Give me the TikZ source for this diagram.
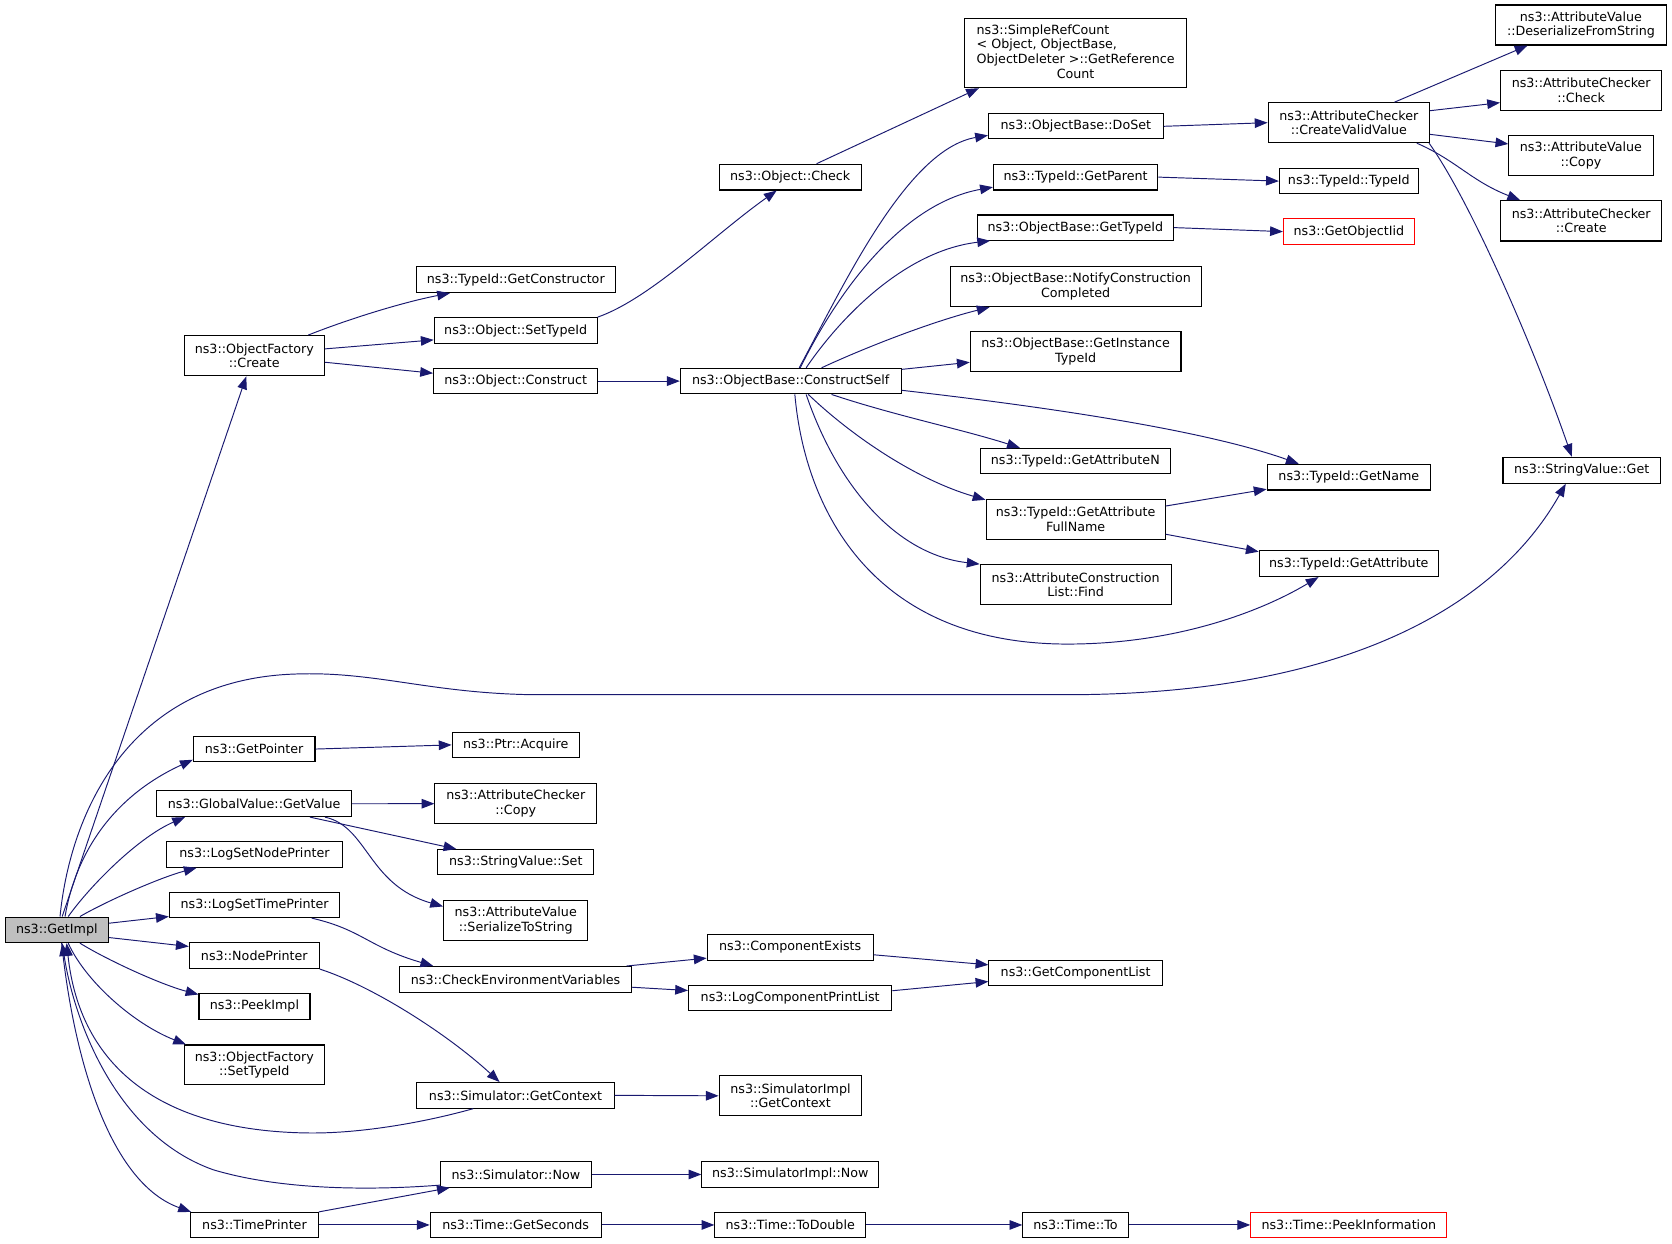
\documentclass[tikz,border=0pt]{standalone}
\usepackage{fontspec}
\setmainfont{DejaVu Sans}
\usetikzlibrary{arrows.meta}
\definecolor{edgec}{RGB}{25,25,112}
\definecolor{rootfill}{RGB}{191,191,191}
\tikzset{
 fnbox/.style={draw=black, line width=1pt, fill=white, inner sep=0pt, align=center,
   font=\fontsize{11.9pt}{13.8pt}\selectfont, text=black},
 rootbox/.style={fill=rootfill},
 redbox/.style={draw=red},
 ed/.style={draw=edgec, line width=0.9pt, -{Triangle[length=12pt,width=9pt]}},
}
\newcommand\fn[7][]{\node[fnbox,#1,minimum width={(#5-#3)*1pt},minimum height={(#6-#4)*1pt}] (#2) at ({(#3+#5)/2},{(#4+#6)/2}) {#7};}
\begin{document}
\begin{tikzpicture}[x=1pt,y=-1pt]
\path[use as bounding box, fill=white] (0,0) rectangle (1568,1166.4);
% nodes
\fn[rootbox]{gi}{5}{860}{101.6}{884}{ns3::GetImpl}
\fn{ofc}{172.8}{314.7}{304.1}{352.5}{ns3::ObjectFactory\\::Create}
\fn{gcons}{390.4}{250}{577}{274.4}{ns3::TypeId::GetConstructor}
\fn{ost}{407.2}{297.9}{560}{322}{ns3::Object::SetTypeId}
\fn{ocon}{406.6}{345.4}{560.7}{369.4}{ns3::Object::Construct}
\fn{och}{674.5}{154}{807.6}{178.2}{ns3::Object::Check}
\fn{cs}{638}{345.4}{845}{369.4}{ns3::ObjectBase::ConstructSelf}
\fn{src}{904.4}{17.5}{1113}{82.2}{\begin{tabular}{@{}l@{}}ns3::SimpleRefCount\\< Object, ObjectBase,\\\multicolumn{1}{@{}c@{}}{ObjectDeleter >::GetReference}\\\multicolumn{1}{@{}c@{}}{Count}\end{tabular}}
\fn{doset}{927}{106.6}{1090.9}{130.3}{ns3::ObjectBase::DoSet}
\fn{gpar}{931.6}{154}{1085.8}{178.2}{ns3::TypeId::GetParent}
\fn{gtid}{916.4}{201.6}{1100.6}{225.3}{ns3::ObjectBase::GetTypeId}
\fn{notify}{891}{250}{1126.4}{287.6}{ns3::ObjectBase::NotifyConstruction\\Completed}
\fn{ginst}{909.9}{311}{1107.5}{348.5}{ns3::ObjectBase::GetInstance\\TypeId}
\fn{gattrn}{919.5}{420.4}{1097.3}{444.4}{ns3::TypeId::GetAttributeN}
\fn{fulln}{924.7}{468.2}{1092.7}{506.3}{ns3::TypeId::GetAttribute\\FullName}
\fn{find}{919.2}{529.5}{1098.3}{567.3}{ns3::AttributeConstruction\\List::Find}
\fn{cvv}{1189.2}{96.3}{1340.7}{133.8}{ns3::AttributeChecker\\::CreateValidValue}
\fn{tidtid}{1199.8}{157.8}{1330}{181.9}{ns3::TypeId::TypeId}
\fn[redbox]{goid}{1203.6}{205}{1326.3}{229.4}{ns3::GetObjectIid}
\fn{gname}{1188.3}{435.4}{1341.6}{459.5}{ns3::TypeId::GetName}
\fn{gattr}{1180.9}{516.6}{1348.9}{540.7}{ns3::TypeId::GetAttribute}
\fn{dfs}{1402.5}{4.7}{1562.7}{42.2}{ns3::AttributeValue\\::DeserializeFromString}
\fn{acchk}{1407.2}{66}{1558.5}{103.4}{ns3::AttributeChecker\\::Check}
\fn{avcopy}{1415}{126.9}{1550.2}{164.7}{ns3::AttributeValue\\::Copy}
\fn{accreate}{1407.2}{188.2}{1558.5}{226}{ns3::AttributeChecker\\::Create}
\fn{svget}{1409.5}{428.8}{1557.2}{453.2}{ns3::StringValue::Get}
\fn{gp}{181.3}{690.7}{295.4}{714.2}{ns3::GetPointer}
\fn{acq}{424}{686.7}{543.2}{710.4}{ns3::Ptr::Acquire}
\fn{gv}{146.9}{741.7}{329.8}{765.8}{ns3::GlobalValue::GetValue}
\fn{accopy}{407.9}{734.8}{559.5}{772.6}{ns3::AttributeChecker\\::Copy}
\fn{svset}{410.4}{796.7}{557}{820.4}{ns3::StringValue::Set}
\fn{sts}{416}{844.8}{551.3}{882.3}{ns3::AttributeValue\\::SerializeToString}
\fn{lsnp}{156.3}{789.2}{321}{813.3}{ns3::LogSetNodePrinter}
\fn{lstp}{158.8}{837}{318.8}{860.5}{ns3::LogSetTimePrinter}
\fn{np}{177.5}{884}{299.4}{908.3}{ns3::NodePrinter}
\fn{peek}{186.6}{931.6}{290.7}{955.7}{ns3::PeekImpl}
\fn{ofst}{172.8}{980}{304.1}{1017.3}{ns3::ObjectFactory\\::SetTypeId}
\fn{cev}{375}{906.4}{592}{930.8}{ns3::CheckEnvironmentVariables}
\fn{cex}{663.2}{876.7}{818.9}{900.4}{ns3::ComponentExists}
\fn{lcpl}{645.7}{924.2}{836.4}{948}{ns3::LogComponentPrintList}
\fn{gcl}{927.4}{900.8}{1090}{924.5}{ns3::GetComponentList}
\fn{sgc}{391}{1015.2}{576}{1039.2}{ns3::Simulator::GetContext}
\fn{sigc}{674.4}{1008.9}{808.2}{1046.4}{ns3::SimulatorImpl\\::GetContext}
\fn{snow}{413.1}{1089.5}{554.5}{1113.3}{ns3::Simulator::Now}
\fn{sinow}{658.2}{1089.5}{824.2}{1113.3}{ns3::SimulatorImpl::Now}
\fn{tp}{178.8}{1137}{298.5}{1160.5}{ns3::TimePrinter}
\fn{gsec}{403.4}{1137}{563.8}{1160.5}{ns3::Time::GetSeconds}
\fn{todbl}{670.4}{1137}{811.7}{1160.5}{ns3::Time::ToDouble}
\fn{tto}{959.2}{1137}{1058.1}{1160.5}{ns3::Time::To}
\fn[redbox]{peekinfo}{1173}{1137}{1356.8}{1160.5}{ns3::Time::PeekInformation}
% edges from GetImpl
\draw[ed] ([xshift=5pt]gi.north) -- ([xshift=-7.5pt]ofc.south);
\draw[ed] ([xshift=3pt]gi.north) .. controls (65,770) and (115,640) .. (272,632.3) .. controls (350,628.5) and (400,650) .. (500,651.5) -- (1000,651.5) .. controls (1250,651.5) and (1400,575) .. ([xshift=-15pt]svget.south);
\draw[ed] ([xshift=7.7pt]gi.north) .. controls (72,795) and (110,745) .. ([yshift=-10pt]gp.west);
\draw[ed] ([xshift=10.7pt]gi.north) .. controls (85,830) and (130,785) .. ([xshift=-64.85pt]gv.south);
\draw[ed] ([xshift=21.7pt]gi.north) .. controls (100,845) and (150,823) .. ([xshift=-54.25pt]lsnp.south);
\draw[ed] ([yshift=6.2pt]gi.east) -- ([yshift=-10.75pt]lstp.west);
\draw[ed] ([yshift=-7.2pt]gi.east) -- ([yshift=8.55pt]np.west);
\draw[ed] ([xshift=21.7pt]gi.south) .. controls (100,900) and (150,923) .. ([yshift=11pt]peek.west);
\draw[ed] ([xshift=10.7pt]gi.south) .. controls (80,920) and (125,960) .. ([xshift=-64pt]ofst.north);
\draw[ed] ([xshift=4.5pt]gi.south) .. controls (70,1000) and (105,1110) .. ([xshift=-59.5pt]tp.north);
\draw[ed] ([xshift=-39.7pt]sgc.south) .. controls (400,1052) and (340,1063) .. (290,1062.5) .. controls (150,1061) and (75,1000) .. ([xshift=9.2pt]gi.south);
\draw[ed] ([yshift=-10pt]snow.west) .. controls (340,1117) and (260,1115) .. (200,1097) .. controls (110,1065) and (70,960) .. ([xshift=5pt]gi.south);
% bottom part
\draw[ed] (tp.north east) -- ([xshift=-62pt]snow.south);
\draw[ed] (tp.east) -- (gsec.west);
\draw[ed] (gsec.east) -- (todbl.west);
\draw[ed] (todbl.east) -- (tto.west);
\draw[ed] (tto.east) -- (peekinfo.west);
\draw[ed] (snow.east) -- (sinow.west);
\draw[ed] (sgc.east) -- (sigc.west);
\draw[ed] (np.south east) .. controls (350,925) and (420,970) .. ([xshift=-15pt]sgc.north);
\draw[ed] ([xshift=53.5pt]lstp.south) .. controls (340,872) and (345,888) .. ([xshift=-77.2pt]cev.north);
\draw[ed] ([xshift=104.1pt]cev.north) -- ([yshift=-10pt]cex.west);
\draw[ed] ([yshift=-7.2pt]cev.east) -- ([yshift=7.2pt]lcpl.west);
\draw[ed] ([yshift=-6.85pt]cex.east) -- ([yshift=7.85pt]gcl.west);
\draw[ed] ([yshift=7pt]lcpl.east) -- ([yshift=-7.85pt]gcl.west);
% middle
\draw[ed] (gv.east) -- (accopy.west);
\draw[ed] ([xshift=52.35pt]gv.south) -- ([xshift=-55.7pt]svset.north);
\draw[ed] ([xshift=66.35pt]gv.south) .. controls (345,775) and (345,830) .. ([yshift=13.5pt]sts.west);
\draw[ed] (gp.east) -- (acq.west);
% top
\draw[ed] ([xshift=50.65pt]ofc.north) .. controls (330,298) and (380,283) .. ([xshift=-61.7pt]gcons.south);
\draw[ed] ([yshift=6.4pt]ofc.east) -- ([yshift=-8.8pt]ost.west);
\draw[ed] ([yshift=-6.1pt]ofc.east) -- ([yshift=7.4pt]ocon.west);
\draw[ed] (ost.north east) .. controls (610,280) and (670,220) .. ([xshift=-12.7pt]och.south);
\draw[ed] ([xshift=24.8pt]och.north) -- ([xshift=-90.7pt]src.south);
\draw[ed] (ocon.east) -- (cs.west);
\draw[ed] ([xshift=8pt]cs.north) .. controls (790,270) and (850,140) .. ([yshift=-8.5pt]doset.west);
\draw[ed] ([xshift=9pt]cs.north) .. controls (790,265) and (850,190) .. ([yshift=-9.4pt]gpar.west);
\draw[ed] ([xshift=14.5pt]cs.north) .. controls (790,295) and (850,235) .. ([xshift=-80pt]gtid.south);
\draw[ed] ([xshift=29pt]cs.north) .. controls (820,322) and (880,300) .. ([xshift=-80.7pt]notify.south);
\draw[ed] ([yshift=11pt]cs.east) -- ([yshift=-10pt]ginst.west);
\draw[ed] ([yshift=-8.6pt]cs.east) .. controls (950,378) and (1120,400) .. ([xshift=-47pt]gname.north);
\draw[ed] ([xshift=38.3pt]cs.south) .. controls (840,390) and (900,402) .. ([xshift=-52pt]gattrn.north);
\draw[ed] ([xshift=16.5pt]cs.south) .. controls (800,410) and (860,450) .. ([yshift=-1pt]fulln.north west);
\draw[ed] ([xshift=14.5pt]cs.south) .. controls (785,455) and (840,520) .. (find.north west);
\draw[ed] ([xshift=3.9pt]cs.south) .. controls (755,480) and (820,604) .. (1001,604) .. controls (1100,604) and (1180,575) .. ([xshift=-28.4pt]gattr.south);
\draw[ed] (doset.east) -- (cvv.west);
\draw[ed] (gpar.east) -- (tidtid.west);
\draw[ed] (gtid.east) -- (goid.west);
\draw[ed] ([yshift=12.7pt]fulln.east) -- ([yshift=-11.3pt]gname.west);
\draw[ed] ([yshift=-13.75pt]fulln.east) -- ([yshift=11.3pt]gattr.west);
\draw[ed] ([xshift=42.85pt]cvv.north) -- ([xshift=-50.1pt]dfs.south);
\draw[ed] ([yshift=11.25pt]cvv.east) -- ([yshift=-11.6pt]acchk.west);
\draw[ed] ([yshift=-10.95pt]cvv.east) -- ([yshift=10.8pt]avcopy.west);
\draw[ed] ([xshift=63.75pt]cvv.south) .. controls (1365,150) and (1380,170) .. ([xshift=-57.25pt]accreate.north);
\draw[ed] ([xshift=-1pt]cvv.south east) .. controls (1380,190) and (1440,330) .. ([xshift=-9.35pt]svget.north);
\end{tikzpicture}
\end{document}
